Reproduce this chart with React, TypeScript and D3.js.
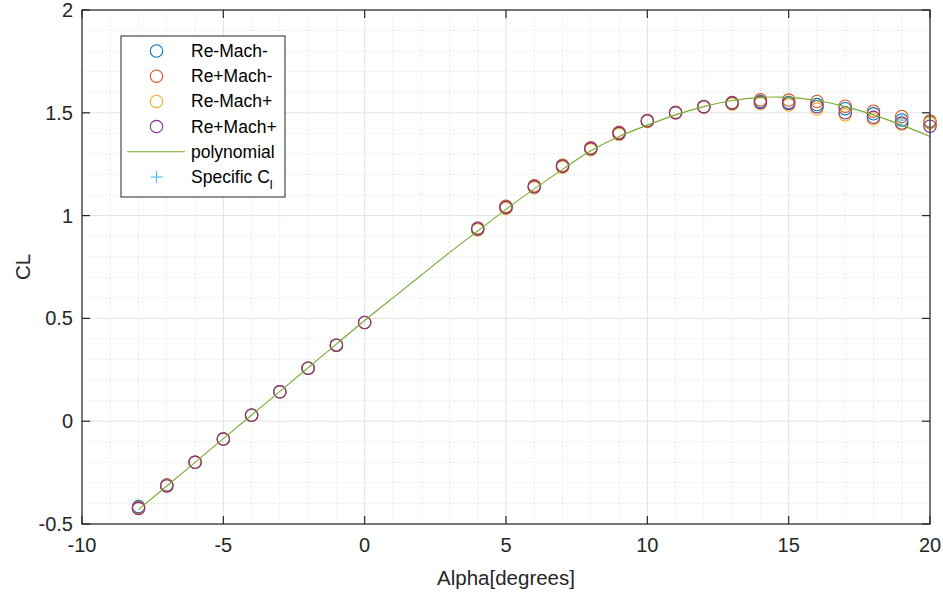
import React from "react";
import * as d3 from "d3";

// Angle of attack samples (degrees) shared by the four test conditions
const alpha = [-8, -7, -6, -5, -4, -3, -2, -1, 0, 4, 5, 6, 7, 8, 9, 10, 11, 12, 13, 14, 15, 16, 17, 18, 19, 20];

// Lift coefficient per condition
const clReMachMinus = [-0.415, -0.31, -0.2, -0.087, 0.03, 0.143, 0.258, 0.37, 0.48, 0.935, 1.04, 1.14, 1.24, 1.325, 1.4, 1.46, 1.5, 1.528, 1.545, 1.555, 1.55, 1.54, 1.52, 1.495, 1.465, 1.455];
const clRePlusMachMinus = [-0.42, -0.312, -0.2, -0.087, 0.029, 0.143, 0.258, 0.37, 0.48, 0.94, 1.045, 1.145, 1.245, 1.33, 1.405, 1.462, 1.503, 1.53, 1.55, 1.563, 1.562, 1.555, 1.532, 1.508, 1.482, 1.46];
const clReMachPlus = [-0.425, -0.315, -0.2, -0.088, 0.028, 0.142, 0.257, 0.37, 0.48, 0.93, 1.035, 1.135, 1.235, 1.32, 1.395, 1.458, 1.5, 1.527, 1.542, 1.545, 1.538, 1.518, 1.49, 1.47, 1.445, 1.45];
const clRePlusMachPlus = [-0.425, -0.315, -0.2, -0.087, 0.029, 0.143, 0.258, 0.37, 0.48, 0.935, 1.04, 1.14, 1.24, 1.325, 1.4, 1.46, 1.5, 1.53, 1.548, 1.55, 1.545, 1.53, 1.5, 1.478, 1.45, 1.435];

// Fitted polynomial, sampled at whole degrees
const polyAlpha = [-8, -7, -6, -5, -4, -3, -2, -1, 0, 1, 2, 3, 4, 5, 6, 7, 8, 9, 10, 11, 12, 13, 14, 15, 16, 17, 18, 19, 20];
const polyCl = [-0.43, -0.315, -0.2, -0.085, 0.03, 0.145, 0.26, 0.375, 0.49, 0.6, 0.71, 0.82, 0.925, 1.03, 1.13, 1.225, 1.315, 1.385, 1.44, 1.49, 1.53, 1.56, 1.575, 1.575, 1.56, 1.53, 1.49, 1.44, 1.385];

// Specific operating point
const specificAlpha = [19];
const specificCl = [1.465];

const xTicks = [-10, -5, 0, 5, 10, 15, 20];
const yTicks = [-0.5, 0, 0.5, 1, 1.5, 2];
const yTickLabels = ["-0.5", "0", "0.5", "1", "1.5", "2"];

const seriesNames = ["Re-Mach-", "Re+Mach-", "Re-Mach+", "Re+Mach+"];
const seriesColors = ["#0072BD", "#D95319", "#EDB120", "#7E2F8E"];
const seriesValues = [clReMachMinus, clRePlusMachMinus, clReMachPlus, clRePlusMachPlus];
const lineColor = "#77AC30";
const plusColor = "#4DBEEE";

const W = 943;
const H = 595;
const left = 82, right = 930, top = 10, bottom = 524;
const font = "'Liberation Sans', Arial, Helvetica, sans-serif";
const axisColor = "#262626";

export default function App() {
  const x = d3.scaleLinear().domain([-10, 20]).range([left, right]);
  const y = d3.scaleLinear().domain([-0.5, 2]).range([bottom, top]);

  const xMinor = d3.range(-10, 20.001, 1).filter((v) => !xTicks.includes(v));
  const yMinor = d3.range(-5, 20.001, 1).map((v) => v / 10).filter((v) => !yTicks.some((t) => Math.abs(t - v) < 1e-9));

  const line = d3
    .line<number>()
    .x((_, i) => x(polyAlpha[i]))
    .y((d) => y(d))
    .curve(d3.curveNatural);

  const tickLen = 8;
  const legendX = 121, legendY = 36, legendW = 164, legendH = 161;
  const rowY = (i: number) => legendY + 15 + i * 25.2;

  return (
    <div style={{ position: "fixed", left: 0, top: 0 }}>
      <svg width={W} height={H} style={{ display: "block", background: "#fff" }} fontFamily={font}>
        <rect x={0} y={0} width={W} height={H} fill="#fff" />
        {/* minor grid */}
        <g stroke="#d9d9d9" strokeWidth={1} strokeDasharray="1,3">
          {xMinor.map((v) => (
            <line key={"xm" + v} x1={x(v)} x2={x(v)} y1={top} y2={bottom} />
          ))}
          {yMinor.map((v) => (
            <line key={"ym" + v} x1={left} x2={right} y1={y(v)} y2={y(v)} />
          ))}
        </g>
        {/* major grid */}
        <g stroke="#e3e3e3" strokeWidth={1}>
          {xTicks.map((v) => (
            <line key={"xg" + v} x1={x(v)} x2={x(v)} y1={top} y2={bottom} />
          ))}
          {yTicks.map((v) => (
            <line key={"yg" + v} x1={left} x2={right} y1={y(v)} y2={y(v)} />
          ))}
        </g>

        {/* data markers */}
        {seriesValues.map((vals, s) => (
          <g key={seriesNames[s]} fill="none" stroke={seriesColors[s]} strokeWidth={1.1}>
            {vals.map((v, i) => (
              <circle key={i} cx={x(alpha[i])} cy={y(v)} r={6.2} />
            ))}
          </g>
        ))}

        {/* polynomial fit */}
        <path d={line(polyCl) || ""} fill="none" stroke={lineColor} strokeWidth={1.1} />

        {/* specific point */}
        {specificAlpha.map((a, i) => (
          <g key={"sp" + i} stroke={plusColor} strokeWidth={1.1}>
            <line x1={x(a) - 6} x2={x(a) + 6} y1={y(specificCl[i])} y2={y(specificCl[i])} />
            <line x1={x(a)} x2={x(a)} y1={y(specificCl[i]) - 6} y2={y(specificCl[i]) + 6} />
          </g>
        ))}

        {/* axes box and ticks */}
        <g stroke={axisColor} strokeWidth={1.2} fill="none">
          <rect x={left} y={top} width={right - left} height={bottom - top} />
          {xTicks.map((v) => (
            <g key={"xt" + v}>
              <line x1={x(v)} x2={x(v)} y1={bottom} y2={bottom - tickLen} />
              <line x1={x(v)} x2={x(v)} y1={top} y2={top + tickLen} />
            </g>
          ))}
          {yTicks.map((v) => (
            <g key={"yt" + v}>
              <line x1={left} x2={left + tickLen} y1={y(v)} y2={y(v)} />
              <line x1={right} x2={right - tickLen} y1={y(v)} y2={y(v)} />
            </g>
          ))}
        </g>

        {/* tick labels */}
        <g fill={axisColor} fontSize={20}>
          {xTicks.map((v) => (
            <text key={"xl" + v} x={x(v)} y={bottom + 28} textAnchor="middle">
              {String(v)}
            </text>
          ))}
          {yTicks.map((v, i) => (
            <text key={"yl" + v} x={left - 9} y={y(v) + 7} textAnchor="end">
              {yTickLabels[i]}
            </text>
          ))}
        </g>

        {/* axis titles */}
        <text x={(left + right) / 2} y={585} textAnchor="middle" fontSize={20.5} fill={axisColor}>
          Alpha[degrees]
        </text>
        <text
          transform={`translate(30, ${(top + bottom) / 2}) rotate(-90)`}
          textAnchor="middle"
          fontSize={20.5}
          fill={axisColor}
        >
          CL
        </text>

        {/* legend */}
        <g>
          <rect x={legendX} y={legendY} width={legendW} height={legendH} fill="#fff" stroke={axisColor} strokeWidth={1} />
          {seriesNames.map((n, i) => (
            <g key={"lg" + n}>
              <circle cx={156.5} cy={rowY(i)} r={6.2} fill="none" stroke={seriesColors[i]} strokeWidth={1.1} />
              <text x={191} y={rowY(i) + 6} fontSize={17.5} fill="#000">
                {n}
              </text>
            </g>
          ))}
          <line x1={127} x2={185} y1={rowY(4)} y2={rowY(4)} stroke={lineColor} strokeWidth={1.1} />
          <text x={191} y={rowY(4) + 6} fontSize={17.5} fill="#000">
            polynomial
          </text>
          <g stroke={plusColor} strokeWidth={1.1}>
            <line x1={150.5} x2={162.5} y1={rowY(5)} y2={rowY(5)} />
            <line x1={156.5} x2={156.5} y1={rowY(5) - 6} y2={rowY(5) + 6} />
          </g>
          <text x={191} y={rowY(5) + 6} fontSize={17.5} fill="#000">
            Specific C
            <tspan fontSize={13} dy={6}>l</tspan>
          </text>
        </g>
      </svg>
    </div>
  );
}
